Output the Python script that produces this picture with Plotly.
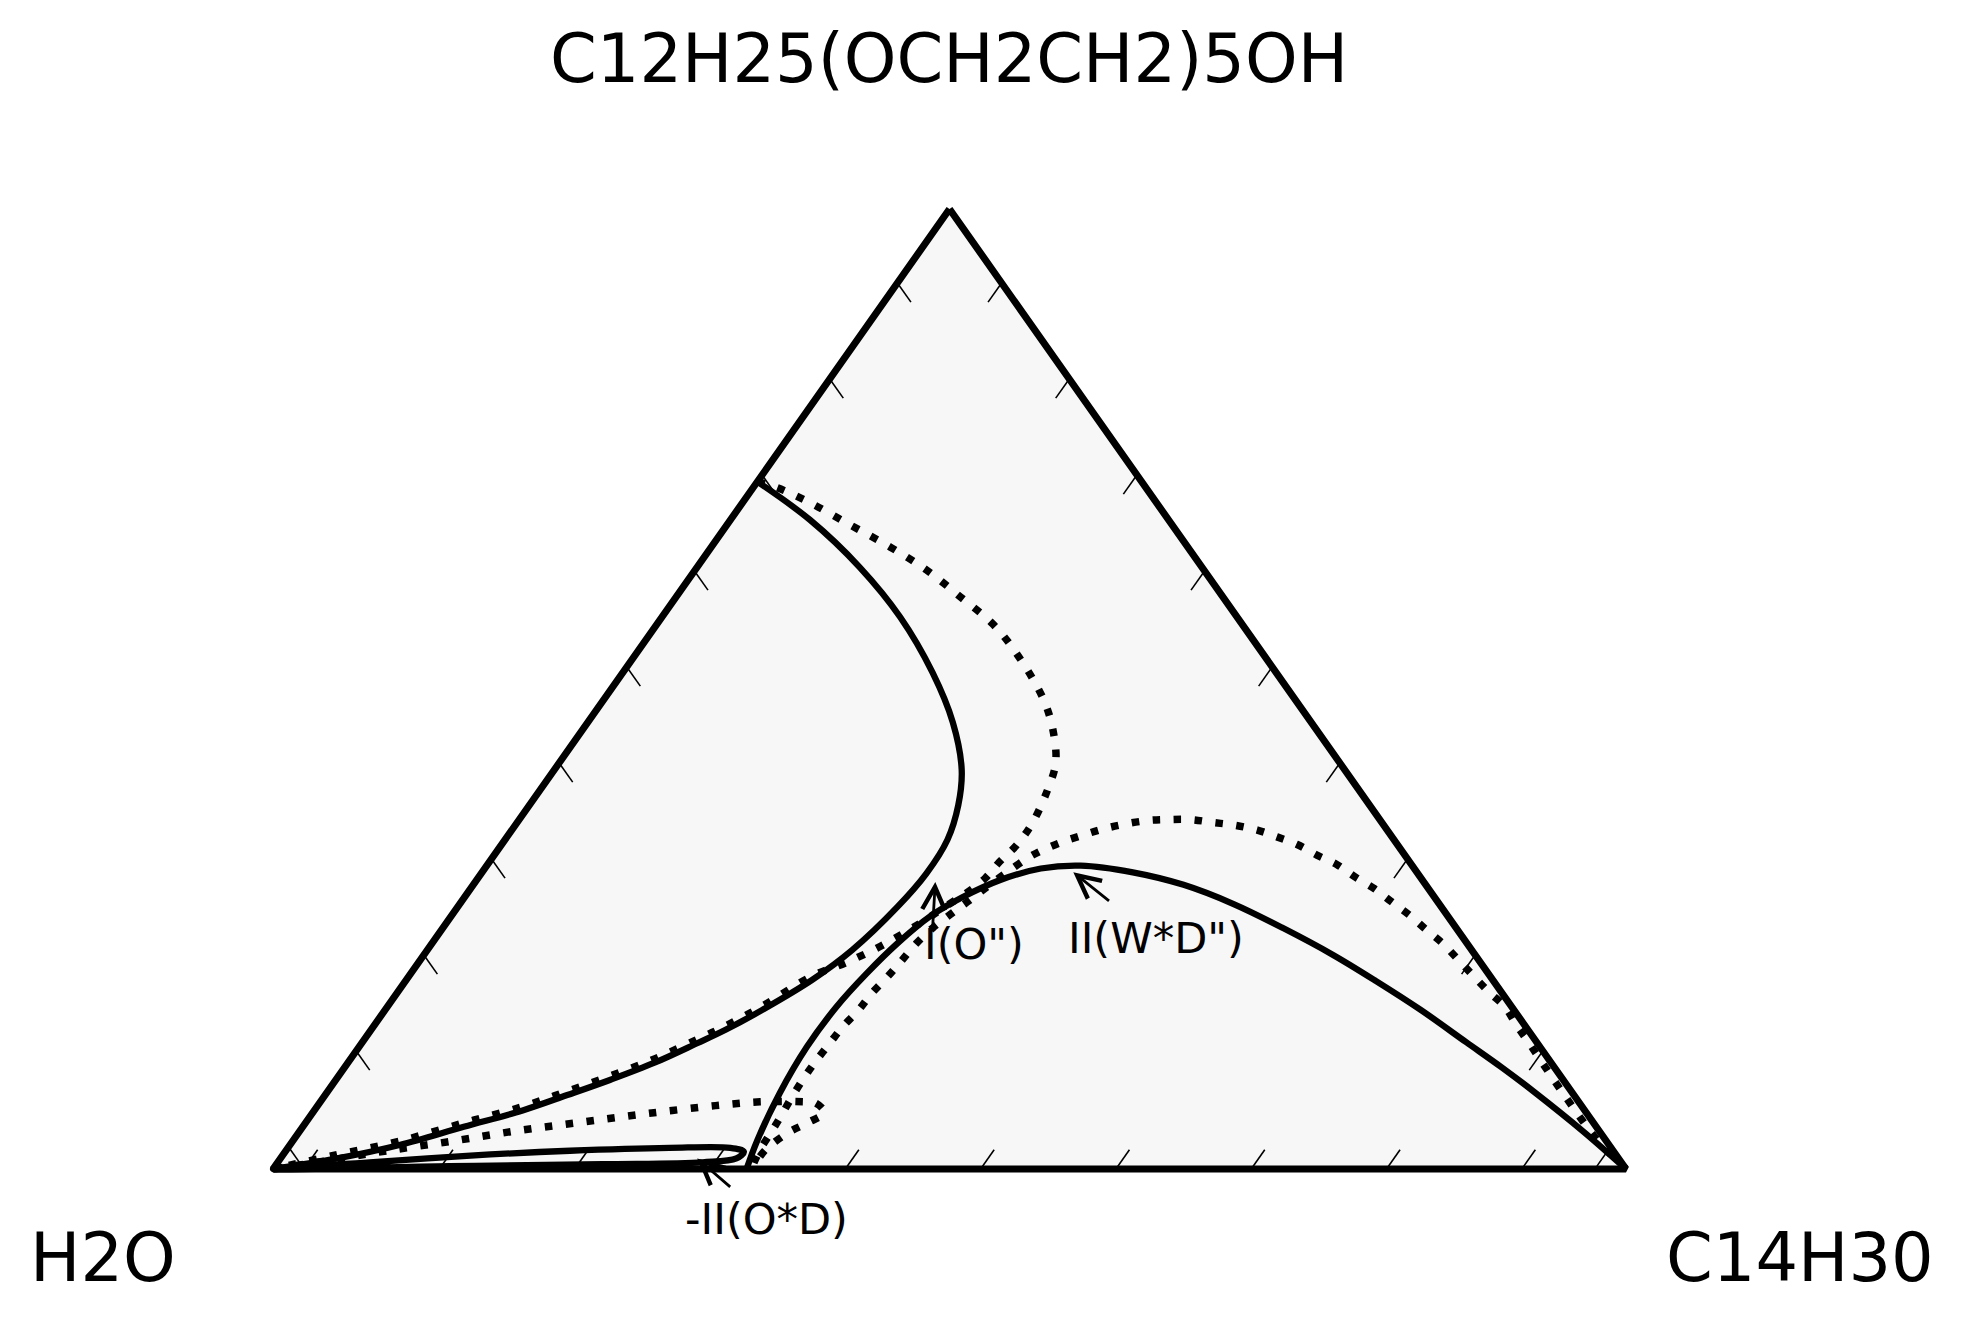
import plotly.graph_objects as go

# ---------------- labels ----------------
TOP_LABEL = "C12H25(OCH2CH2)5OH"   # top corner   (surfactant)
LEFT_LABEL = "H2O"                 # left corner  (water)
RIGHT_LABEL = "C14H30"             # right corner (oil)

# ---------------- data (mass fractions: surfactant = top, oil = right; water = remainder) ----------------
# solid curve 1 : from left edge round the bulge back to the water corner
S1_SURF = [0.716, 0.676, 0.627, 0.575, 0.517, 0.465, 0.416, 0.379, 0.343, 0.308,
           0.273, 0.228, 0.197, 0.166, 0.145, 0.131, 0.111, 0.093, 0.077, 0.061,
           0.044, 0.025, 0.011, 0.0]
S1_OIL = [0.000, 0.059, 0.120, 0.176, 0.229, 0.270, 0.301, 0.317, 0.327, 0.329,
          0.325, 0.314, 0.300, 0.279, 0.262, 0.248, 0.227, 0.203, 0.179, 0.154,
          0.119, 0.081, 0.042, 0.0]

# dotted curve 1
D1_SURF = [0.716, 0.710, 0.694, 0.671, 0.648, 0.624, 0.596, 0.567, 0.533, 0.489,
           0.457, 0.423, 0.395, 0.361, 0.338, 0.320, 0.303, 0.288, 0.273, 0.254,
           0.232, 0.215, 0.201, 0.170, 0.149, 0.135, 0.115, 0.097, 0.081, 0.065,
           0.048, 0.029, 0.015, 0.0]
D1_OIL = [0.000, 0.017, 0.050, 0.091, 0.132, 0.171, 0.210, 0.249, 0.285, 0.325,
          0.348, 0.367, 0.375, 0.381, 0.381, 0.377, 0.375, 0.369, 0.360, 0.349,
          0.333, 0.316, 0.298, 0.277, 0.260, 0.246, 0.225, 0.201, 0.177, 0.152,
          0.117, 0.079, 0.040, 0.0]

# solid curve 2 : oil corner -> dome -> water-oil edge
S2_SURF = [0.0, 0.039, 0.081, 0.106, 0.132, 0.166, 0.196, 0.223, 0.251, 0.276,
           0.296, 0.309, 0.316, 0.313, 0.301, 0.283, 0.263, 0.235, 0.204, 0.169,
           0.127, 0.079, 0.030, 0.0]
S2_OIL = [1.0, 0.949, 0.891, 0.855, 0.816, 0.765, 0.717, 0.672, 0.621, 0.572,
          0.525, 0.481, 0.439, 0.411, 0.387, 0.368, 0.354, 0.344, 0.337, 0.332,
          0.331, 0.335, 0.343, 0.350]

# solid thin lobe near the water-oil edge
S3_SURF = [0.0, 0.007, 0.014, 0.019, 0.022, 0.022, 0.018, 0.011, 0.007, 0.005, 0.003, 0.0]
S3_OIL = [0.0, 0.068, 0.139, 0.210, 0.282, 0.327, 0.339, 0.337, 0.314, 0.241, 0.129, 0.0]

# dotted curve 2 : oil corner -> dome -> water-oil edge
D2_SURF = [0.0, 0.030, 0.080, 0.134, 0.150, 0.169, 0.184, 0.200, 0.218, 0.235,
           0.249, 0.265, 0.278, 0.292, 0.304, 0.317, 0.327, 0.338, 0.346, 0.353,
           0.358, 0.361, 0.364, 0.364, 0.363, 0.359, 0.354, 0.348, 0.340, 0.327,
           0.307, 0.294, 0.278, 0.265, 0.251, 0.235, 0.216, 0.200, 0.183, 0.166,
           0.148, 0.131, 0.111, 0.095, 0.075, 0.054, 0.038, 0.020, 0.004]
D2_OIL = [1.0, 0.964, 0.913, 0.860, 0.844, 0.826, 0.807, 0.788, 0.767, 0.747,
          0.728, 0.707, 0.688, 0.668, 0.648, 0.628, 0.608, 0.588, 0.569, 0.551,
          0.532, 0.514, 0.496, 0.480, 0.465, 0.449, 0.436, 0.425, 0.412, 0.398,
          0.387, 0.381, 0.374, 0.368, 0.362, 0.358, 0.356, 0.354, 0.351, 0.350,
          0.347, 0.346, 0.345, 0.345, 0.346, 0.348, 0.349, 0.350, 0.353]

# dotted lobe (continues dotted curve 2 back to the water corner)
D3_SURF = [0.004, 0.020, 0.038, 0.048, 0.059, 0.069, 0.070, 0.070, 0.066, 0.058,
           0.049, 0.040, 0.029, 0.019, 0.009, 0.0]
D3_OIL = [0.353, 0.354, 0.362, 0.371, 0.378, 0.366, 0.357, 0.325, 0.294, 0.249,
          0.205, 0.161, 0.118, 0.075, 0.037, 0.0]

# triangle corners (surfactant, oil)
CORNER_SURF = [1.0, 0.0, 0.0, 1.0]
CORNER_OIL = [0.0, 0.0, 1.0, 0.0]

# tick positions along each edge
TICK_VALUES = [0.023, 0.123, 0.223, 0.323, 0.423, 0.523, 0.623, 0.723, 0.823, 0.923]
TICK_LEN = 0.02

# corner-label positions (surf, oil)
CORNER_LABELS = [TOP_LABEL, LEFT_LABEL, RIGHT_LABEL]
CORNER_LABEL_SURF = [1.156, -0.0927, -0.0927]
CORNER_LABEL_OIL = [-0.078, -0.079, 1.175]

# annotations: text, text position (surf, oil), arrow head (surf, oil), arrow tail (surf, oil)
ANN_TEXT = ['I(O")', 'II(W*D")', '-II(O*D)']
ANN_TEXT_SURF = [0.234, 0.241, -0.052]
ANN_TEXT_OIL = [0.401, 0.532, 0.391]
ANN_HEAD_SURF = [0.299, 0.309, 0.011]
ANN_HEAD_OIL = [0.340, 0.437, 0.308]
ANN_TAIL_SURF = [0.251, 0.278, -0.020]
ANN_TAIL_OIL = [0.362, 0.480, 0.349]


def to_xy(surf, oil):
    """ternary (surfactant on top, oil on right) -> cartesian triangle coords"""
    xs = [o + s / 2.0 for s, o in zip(surf, oil)]
    ys = [s for s in surf]
    return xs, ys


PAD_X = 30 / 1353
PAD_Y = 30 / 960


def to_paper(x, y):
    return (x + PAD_X) / (1 + 2 * PAD_X), (y + PAD_Y) / (1 + 2 * PAD_Y)


FONT = "DejaVu Sans"
fig = go.Figure()

# background triangle
cx, cy = to_xy(CORNER_SURF, CORNER_OIL)
fig.add_trace(go.Scatter(x=cx, y=cy, mode="lines", fill="toself",
                         fillcolor="#f7f7f7", line=dict(width=0, color="#f7f7f7"),
                         hoverinfo="skip"))

# ticks
tx, ty = [], []
for v in TICK_VALUES:
    xs, ys = to_xy([0.0, TICK_LEN], [v, v])                    # bottom edge
    tx += xs + [None]; ty += ys + [None]
    xs, ys = to_xy([v, v - TICK_LEN], [0.0, TICK_LEN])         # left edge
    tx += xs + [None]; ty += ys + [None]
    xs, ys = to_xy([v, v - TICK_LEN], [1.0 - v, 1.0 - v])      # right edge
    tx += xs + [None]; ty += ys + [None]
fig.add_trace(go.Scatter(x=tx, y=ty, mode="lines", line=dict(color="black", width=1.6),
                         hoverinfo="skip"))

solid = dict(color="black", width=6.3, shape="spline", smoothing=1.0)
dotted = dict(color="black", width=7.5, dash="7.5px,13.5px", shape="spline", smoothing=1.0)

for s, o, st in [(S1_SURF, S1_OIL, solid), (S2_SURF, S2_OIL, solid), (S3_SURF, S3_OIL, solid),
                 (D1_SURF, D1_OIL, dotted), (D2_SURF + D3_SURF[1:], D2_OIL + D3_OIL[1:], dotted)]:
    xs, ys = to_xy(s, o)
    fig.add_trace(go.Scatter(x=xs, y=ys, mode="lines", line=st, hoverinfo="skip"))

# boundary
fig.add_trace(go.Scatter(x=cx, y=cy, mode="lines", line=dict(color="black", width=7),
                         hoverinfo="skip"))

annotations = []
for i, txt in enumerate(CORNER_LABELS):
    x, y = to_xy([CORNER_LABEL_SURF[i]], [CORNER_LABEL_OIL[i]])
    px, py = to_paper(x[0], y[0])
    annotations.append(dict(x=px, y=py, xref="paper", yref="paper", text=txt, showarrow=False,
                            xanchor="center", yanchor="middle",
                            font=dict(family=FONT, size=67, color="black")))

for i, txt in enumerate(ANN_TEXT):
    x, y = to_xy([ANN_TEXT_SURF[i]], [ANN_TEXT_OIL[i]])
    px, py = to_paper(x[0], y[0])
    annotations.append(dict(x=px, y=py, xref="paper", yref="paper", text=txt, showarrow=False,
                            xanchor="center", yanchor="middle",
                            font=dict(family=FONT, size=43, color="black")))
    hx, hy = to_xy([ANN_HEAD_SURF[i]], [ANN_HEAD_OIL[i]])
    ax, ay = to_xy([ANN_TAIL_SURF[i]], [ANN_TAIL_OIL[i]])
    annotations.append(dict(x=hx[0], y=hy[0], ax=ax[0], ay=ay[0], xref="x", yref="y",
                            axref="x", ayref="y", text="", showarrow=True, arrowhead=5,
                            arrowsize=1.6, arrowwidth=2.8, arrowcolor="black", standoff=0))

# page body has an 8px margin, so the figure is 8px smaller than the window
fig.update_layout(
    width=1953, height=1317,
    margin=dict(l=235, r=305, t=171, b=126, pad=0),
    paper_bgcolor="white", plot_bgcolor="white",
    showlegend=False,
    xaxis=dict(range=[-PAD_X, 1 + PAD_X], visible=False, fixedrange=True),
    yaxis=dict(range=[-PAD_Y, 1 + PAD_Y], visible=False, fixedrange=True),
    annotations=annotations,
)

fig.write_html("out.html", config={"displayModeBar": False})
